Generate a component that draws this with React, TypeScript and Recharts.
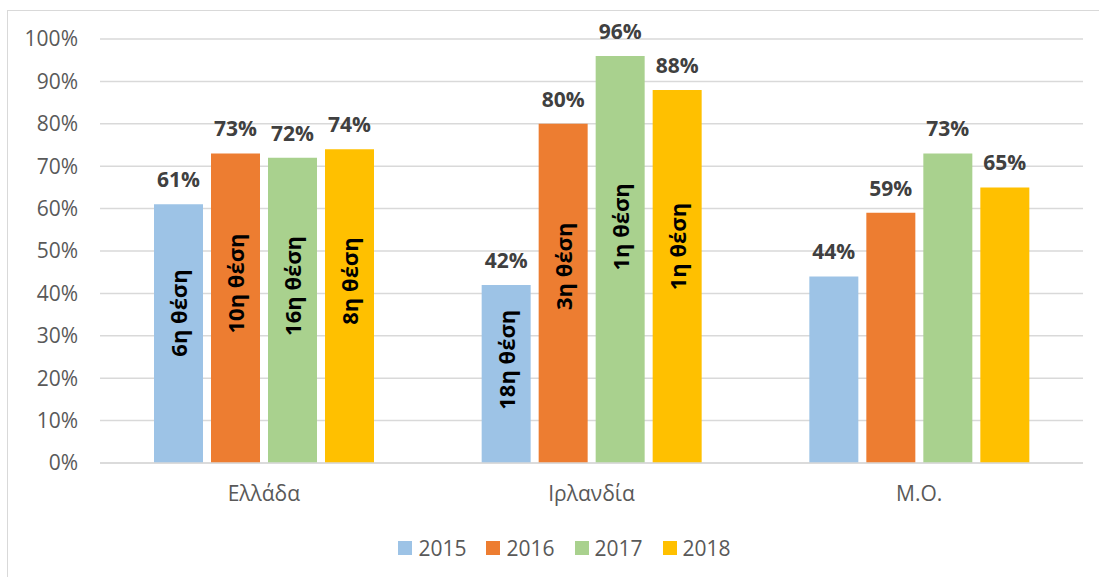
import { BarChart, Bar, XAxis, YAxis, CartesianGrid, Legend, LabelList } from "recharts";

const categories = ["Ελλάδα", "Ιρλανδία", "Μ.Ο."];
const years = ["2015", "2016", "2017", "2018"];
const values2015 = [61, 42, 44];
const values2016 = [73, 80, 59];
const values2017 = [72, 96, 73];
const values2018 = [74, 88, 65];
const rank2015 = [6, 18, null];
const rank2016 = [10, 3, null];
const rank2017 = [16, 1, null];
const rank2018 = [8, 1, null];
const yTicks = [0, 10, 20, 30, 40, 50, 60, 70, 80, 90, 100];

const colors = ["#9DC3E6", "#ED7D31", "#A9D18E", "#FFC000"];
const FONT = "'Open Sans', 'Noto Sans', sans-serif";

const seriesValues = [values2015, values2016, values2017, values2018];
const seriesRanks = [rank2015, rank2016, rank2017, rank2018];

const data = categories.map((name, i) => {
  const row: Record<string, string | number | null> = { name };
  years.forEach((y, s) => {
    row["v" + y] = seriesValues[s][i];
    row["r" + y] = seriesRanks[s][i];
  });
  return row;
});

const RankLabel = (props: any) => {
  const { x, y, width, height, value } = props;
  if (value == null) return null;
  const cx = Number(x) + Number(width) / 2;
  const cy = Number(y) + Number(height) * 0.42;
  return (
    <text
      x={cx}
      y={cy}
      transform={`rotate(-90, ${cx}, ${cy})`}
      textAnchor="middle"
      dominantBaseline="central"
      fontFamily={FONT}
      fontWeight={700}
      fontSize={22}
      fill="#000"
    >
      {`${value}η θέση`}
    </text>
  );
};

const renderLegend = (props: any) => {
  const { payload } = props;
  return (
    <div style={{ display: "flex", justifyContent: "center", gap: 20, paddingLeft: 30, height: 29, fontFamily: FONT, fontSize: 21, color: "#595959" }}>
      {payload.map((p: any) => (
        <div key={p.value} style={{ display: "flex", alignItems: "center" }}>
          <span style={{ display: "inline-block", width: 14, height: 14, background: p.color, marginRight: 6 }} />
          <span>{p.value}</span>
        </div>
      ))}
    </div>
  );
};

export default function App() {
  return (
    <div style={{ position: "fixed", left: 0, top: 0, width: 1099, height: 577, background: "#fff", overflow: "hidden" }}>
      <div style={{ position: "absolute", left: 7, top: 10, width: 1110, height: 590, border: "1.5px solid #d9d9d9" }} />
      <BarChart
        width={1099}
        height={577}
        data={data}
        margin={{ top: 39, right: 16, bottom: 55, left: 40 }}
        barSize={49}
        barGap={8}
        style={{ position: "absolute", left: 0, top: 0 }}
      >
        <CartesianGrid vertical={false} stroke="#d9d9d9" strokeWidth={1.5} />
        <XAxis
          dataKey="name"
          height={30}
          tickLine={false}
          axisLine={{ stroke: "#d9d9d9", strokeWidth: 1.5 }}
          tickSize={0}
          tickMargin={23}
          tick={{ fontFamily: FONT, fontSize: 21, fill: "#595959" }}
        />
        <YAxis
          width={60}
          domain={[0, 100]}
          ticks={yTicks}
          tickFormatter={(v) => `${v}%`}
          axisLine={false}
          tickLine={false}
          tickSize={0}
          tickMargin={22}
          tick={{ fontFamily: FONT, fontSize: 21, fill: "#595959" }}
        />
        <Legend
          content={renderLegend}
          wrapperStyle={{ position: "absolute", top: 533, left: 0, width: 1099 }}
        />
        {years.map((y, s) => (
          <Bar key={y} dataKey={"v" + y} name={y} fill={colors[s]} isAnimationActive={false}>
            <LabelList
              dataKey={"v" + y}
              position="top"
              offset={17}
              formatter={(v: any) => `${v}%`}
              style={{ fontFamily: FONT, fontSize: 21, fontWeight: 700, fill: "#404040" }}
            />
            <LabelList dataKey={"r" + y} content={RankLabel} />
          </Bar>
        ))}
      </BarChart>
    </div>
  );
}
